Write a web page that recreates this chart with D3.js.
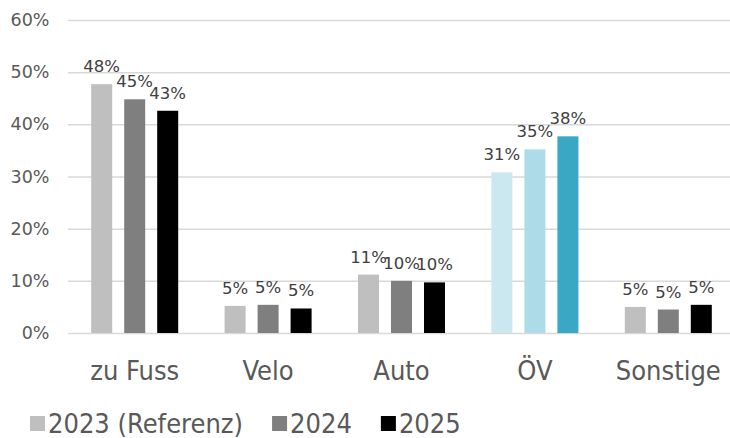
<!DOCTYPE html>
<html>
<head>
<meta charset="utf-8">
<script src="https://cdn.jsdelivr.net/npm/d3@7"></script>
<style>
  body { margin: 0; background: #fff; }
  svg { display: block; }
</style>
</head>
<body>
<div id="chart"></div>
<script>
// data
var categories = ["zu Fuss", "Velo", "Auto", "ÖV", "Sonstige"];
var seriesNames = ["2023 (Referenz)", "2024", "2025"];
var values2023 = [47.7, 5.2, 11.2, 30.8, 5.0];
var values2024 = [44.8, 5.4, 10.0, 35.2, 4.5];
var values2025 = [42.6, 4.7, 9.7, 37.7, 5.4];
var yTicks = [0, 10, 20, 30, 40, 50, 60];

var seriesValues = [values2023, values2024, values2025];
var colors = ["#bfbfbf", "#7f7f7f", "#000000"];
var oevColors = ["#cbe8f0", "#acdce8", "#3aa8c4"];

var W = 730, H = 438;
var svg = d3.select("#chart").append("svg")
  .attr("width", W)
  .attr("height", H);

var x0 = d3.scaleBand()
  .domain(categories)
  .range([68, 735])
  .padding(0);

// bars: 21px wide, 33px apart
var x1 = d3.scaleBand()
  .domain(seriesNames)
  .range([0, 87])
  .paddingInner(12 / 33)
  .paddingOuter(0);

var y = d3.scaleLinear()
  .domain([0, 60])
  .range([333, 20]);

// y axis + gridlines
var yAxis = svg.append("g")
  .attr("transform", "translate(68,0)")
  .call(d3.axisLeft(y).tickValues(yTicks).tickSize(-662).tickPadding(18.5)
    .tickFormat(function(d){ return d + "%"; }));
yAxis.select(".domain").remove();
yAxis.selectAll("line").attr("stroke", "#d9d9d9").attr("stroke-width", 1.5);
yAxis.selectAll("text")
  .attr("fill", "#595959")
  .style("font-family", "DejaVu Sans")
  .style("font-size", "17.5px");

// x axis labels
var xAxis = svg.append("g")
  .attr("transform", "translate(0,333)")
  .call(d3.axisBottom(x0).tickSize(0).tickPadding(28));
xAxis.select(".domain").remove();
xAxis.selectAll("text")
  .attr("fill", "#595959")
  .style("font-family", "'DejaVu Sans Condensed', 'DejaVu Sans'")
  .style("font-stretch", "condensed")
  .style("font-size", "27px");

// bars
var rows = [];
categories.forEach(function(c, ci){
  seriesNames.forEach(function(s, si){
    rows.push({cat: c, ci: ci, series: s, si: si, value: seriesValues[si][ci]});
  });
});

function barX(d){
  return x0(d.cat) + (x0.bandwidth() - 87) / 2 + x1(d.series);
}

svg.append("g").selectAll("rect")
  .data(rows)
  .enter().append("rect")
  .attr("x", barX)
  .attr("width", x1.bandwidth())
  .attr("y", function(d){ return y(d.value); })
  .attr("height", function(d){ return y(0) - y(d.value); })
  .attr("fill", function(d){
    return d.cat == "ÖV" ? oevColors[d.si] : colors[d.si];
  });

// value labels
svg.append("g").selectAll("text")
  .data(rows)
  .enter().append("text")
  .attr("x", function(d){ return barX(d) + x1.bandwidth() / 2; })
  .attr("y", function(d){ return y(d.value) - 12; })
  .attr("text-anchor", "middle")
  .attr("fill", "#404040")
  .style("font-family", "DejaVu Sans")
  .style("font-size", "16.5px")
  .text(function(d){ return Math.round(d.value) + "%"; });

// legend
var legend = svg.append("g");
var lx = 30;
seriesNames.forEach(function(s, i){
  legend.append("rect")
    .attr("x", lx)
    .attr("y", 416)
    .attr("width", 15)
    .attr("height", 15)
    .attr("fill", colors[i]);
  var t = legend.append("text")
    .attr("x", lx + 18)
    .attr("y", 433)
    .attr("fill", "#595959")
    .style("font-family", "'DejaVu Sans Condensed', 'DejaVu Sans'")
    .style("font-stretch", "condensed")
    .style("font-size", "27px")
    .text(s);
  lx = lx + 18 + t.node().getComputedTextLength() + 29;
});
</script>
</body>
</html>
